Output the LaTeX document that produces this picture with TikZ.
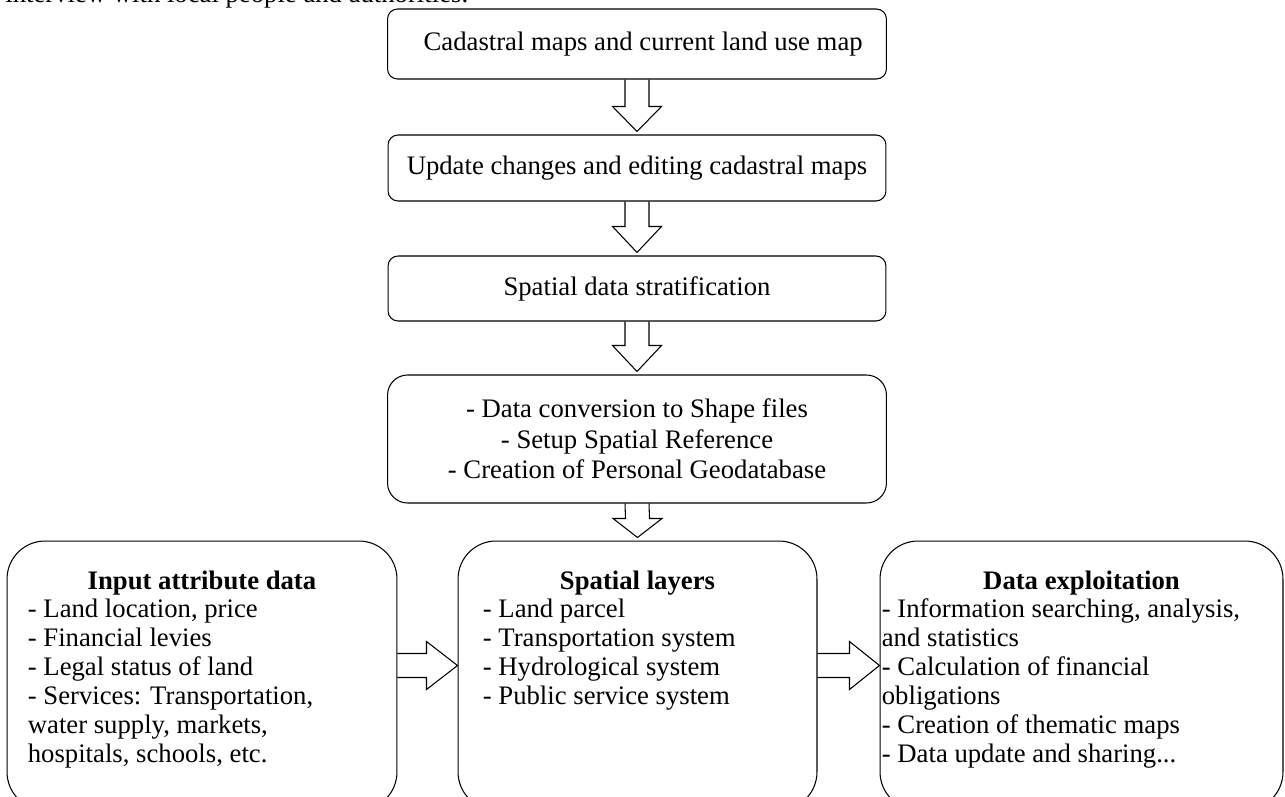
\documentclass[tikz,border=0pt]{standalone}
\usepackage{fontspec}
\setmainfont{Liberation Serif}
\usetikzlibrary{calc}
\tikzset{
    box/.style={rectangle, draw=black, line width=0.6pt, rounded corners=#1, align=center, inner sep=0pt, font=\fontsize{15.2}{17.3}\selectfont},
    box/.default=0.2cm,
    panel/.style={rectangle, draw=black, line width=0.6pt, rounded corners=0.76cm, minimum height=5.38cm},
    head/.style={inner sep=0pt, anchor=base, font=\fontsize{15.2}{16.5}\selectfont\bfseries},
    item/.style={inner sep=0pt, anchor=base west, font=\fontsize{15.2}{16.5}\selectfont},
    blockarrow/.style={draw=black, line width=0.6pt, line join=miter}
}
% hollow arrow from the bottom of #1 down to the top of #2, head length #3
\newcommand{\downblock}[3]{%
    \draw[blockarrow] ($(#1.south)+(-12,0)$) -- ($(#2.north)+(-12,-#3-3)$) -- ++(-12.5,0)
        -- ($(#2.north)+(0,-3)$) -- ($(#2.north)+(24.5,-#3-3)$) -- ++(-12.5,0) -- ($(#1.south)+(12,0)$);}
% hollow arrow from the right side of #1 to the left side of #2, head length #3
\newcommand{\rightblock}[3]{%
    \draw[blockarrow] ($(#1.east)+(0,-10-12)$) -- ($(#2.west)+(-#3,-10-12)$) -- ++(0,-12)
        -- ($(#2.west)+(0,-10)$) -- ($(#2.west)+(-#3,-10+24)$) -- ++(0,-12) -- ($(#1.east)+(0,-10+12)$);}

\begin{document}
\begin{tikzpicture}[x=0.02cm, y=-0.02cm]
    \useasboundingbox (0,0) rectangle (1285,797);
    \clip (0,0) rectangle (1285,797);

    % Line left over from the text above
    \node[item] (intro) at (5,3) {interview with local people and authorities.};

    % Main chain
    \node[box, minimum width=9.98cm, minimum height=1.4cm] (cad) at (637,44) {\hspace{7pt}Cadastral maps and current land use map};
    \node[box, minimum width=9.96cm, minimum height=1.32cm] (upd) at (637,168) {Update changes and editing cadastral maps};
    \node[box, minimum width=9.96cm, minimum height=1.3cm] (strat) at (637,288.5) {Spatial data stratification};
    \node[box=0.4cm, minimum width=9.98cm, minimum height=2.56cm] (conv) at (637,439)
        {- Data conversion to Shape files\\ - Setup Spatial Reference\\ - Creation of Personal Geodatabase};

    % Bottom panels
    \node[panel, minimum width=7.8cm] (inp) at (202,675.5) {};
    \node[panel, minimum width=7.18cm] (lay) at (637.5,675.5) {};
    \node[panel, minimum width=8.06cm] (expl) at (1081.5,675.5) {};

    \node[head] (inp-h) at ($(inp.north)+(0,49)$) {Input attribute data};
    \node[head] (lay-h) at ($(lay.north)+(0,49)$) {Spatial layers};
    \node[head] (expl-h) at ($(expl.north)+(0,49)$) {Data exploitation};

    \foreach \txt [count=\i from 0] in {{- Land location, price}, {- Financial levies}, {- Legal status of land},
        {- Services: Transportation,}, {water supply, markets,}, {hospitals, schools, etc.}}
        \node[item] (inp-\i) at ($(inp.north west)+(21,77+29*\i)$) {\txt};
    \foreach \txt [count=\i from 0] in {{- Land parcel}, {- Transportation system}, {- Hydrological system},
        {- Public service system}}
        \node[item] (lay-\i) at ($(lay.north west)+(25,77+29*\i)$) {\txt};
    \foreach \txt [count=\i from 0] in {{- Information searching, analysis,}, {and statistics}, {- Calculation of financial},
        {obligations}, {- Creation of thematic maps}, {- Data update and sharing.{}.{}.}}
        \node[item] (expl-\i) at ($(expl.north west)+(2,77+29*\i)$) {\txt};

    % Arrows
    \downblock{cad}{upd}{25}
    \downblock{upd}{strat}{26}
    \downblock{strat}{conv}{26}
    \downblock{conv}{lay}{19}
    \rightblock{inp}{lay}{31}
    \rightblock{lay}{expl}{30}
\end{tikzpicture}
\end{document}
